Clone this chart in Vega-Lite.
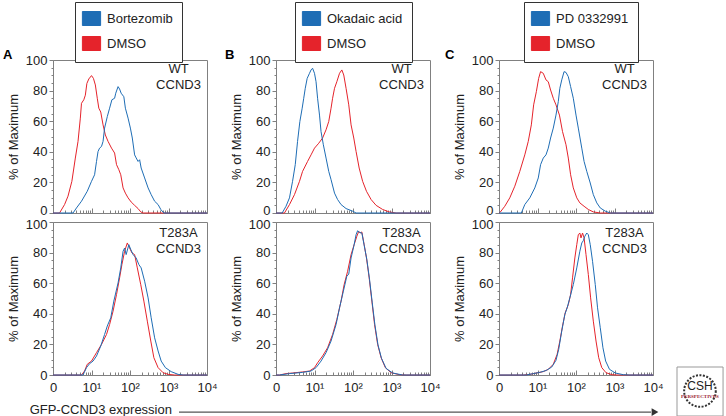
{
  "$schema": "https://vega.github.io/schema/vega-lite/v6.json",
  "padding": {"left": 2, "top": 1, "right": 0, "bottom": 0},
  "autosize": {"type": "pad"},
  "config": {
    "font": "Liberation Sans",
    "view": {"stroke": "#808080", "strokeWidth": 1},
    "axis": {"domainColor": "#808080", "tickColor": "#808080", "domainWidth": 1, "tickWidth": 1, "labelFont": "Liberation Sans", "labelFontSize": 13, "labelColor": "#222222", "titleFont": "Liberation Sans", "titleFontSize": 13, "titleFontWeight": "normal", "titleColor": "#222222", "grid": false},
    "legend": {"labelFont": "Liberation Sans", "labelFontSize": 13, "labelColor": "#222222", "padding": 9, "rowPadding": 6, "labelOffset": 8, "strokeColor": "#333333", "fillColor": "white", "symbolStrokeWidth": 0, "labelLimit": 300, "symbolSize": 196, "symbolOpacity": 1},
    "title": {"font": "Liberation Sans", "fontSize": 13, "fontWeight": "bold", "color": "#000000", "anchor": "start", "frame": "group", "offset": 0},
    "line": {"strokeWidth": 1}
  },
  "datasets": {
    "A_WT": [
      {"treatment": "DMSO", "log_gfp": 0, "pct_max": 0}, {"treatment": "DMSO", "log_gfp": 0.17, "pct_max": 0}, {"treatment": "DMSO", "log_gfp": 0.3, "pct_max": 5.5}, {"treatment": "DMSO", "log_gfp": 0.39, "pct_max": 11}, {"treatment": "DMSO", "log_gfp": 0.49, "pct_max": 20.7}, {"treatment": "DMSO", "log_gfp": 0.58, "pct_max": 35.9}, {"treatment": "DMSO", "log_gfp": 0.65, "pct_max": 46.8}, {"treatment": "DMSO", "log_gfp": 0.71, "pct_max": 62}, {"treatment": "DMSO", "log_gfp": 0.74, "pct_max": 71.7}, {"treatment": "DMSO", "log_gfp": 0.8, "pct_max": 74}, {"treatment": "DMSO", "log_gfp": 0.84, "pct_max": 77}, {"treatment": "DMSO", "log_gfp": 0.88, "pct_max": 84.7}, {"treatment": "DMSO", "log_gfp": 0.93, "pct_max": 87.6}, {"treatment": "DMSO", "log_gfp": 1.0, "pct_max": 89.8}, {"treatment": "DMSO", "log_gfp": 1.05, "pct_max": 88}, {"treatment": "DMSO", "log_gfp": 1.1, "pct_max": 83.7}, {"treatment": "DMSO", "log_gfp": 1.15, "pct_max": 75}, {"treatment": "DMSO", "log_gfp": 1.19, "pct_max": 68.5}, {"treatment": "DMSO", "log_gfp": 1.24, "pct_max": 66}, {"treatment": "DMSO", "log_gfp": 1.3, "pct_max": 57.6}, {"treatment": "DMSO", "log_gfp": 1.36, "pct_max": 51}, {"treatment": "DMSO", "log_gfp": 1.43, "pct_max": 46.8}, {"treatment": "DMSO", "log_gfp": 1.52, "pct_max": 42.4}, {"treatment": "DMSO", "log_gfp": 1.6, "pct_max": 39.2}, {"treatment": "DMSO", "log_gfp": 1.65, "pct_max": 31.6}, {"treatment": "DMSO", "log_gfp": 1.71, "pct_max": 28.3}, {"treatment": "DMSO", "log_gfp": 1.76, "pct_max": 25}, {"treatment": "DMSO", "log_gfp": 1.82, "pct_max": 16.4}, {"treatment": "DMSO", "log_gfp": 1.88, "pct_max": 13}, {"treatment": "DMSO", "log_gfp": 1.95, "pct_max": 9.9}, {"treatment": "DMSO", "log_gfp": 2.03, "pct_max": 7.2}, {"treatment": "DMSO", "log_gfp": 2.12, "pct_max": 5}, {"treatment": "DMSO", "log_gfp": 2.21, "pct_max": 2.9}, {"treatment": "DMSO", "log_gfp": 2.28, "pct_max": 0.7}, {"treatment": "DMSO", "log_gfp": 2.34, "pct_max": 0}, {"treatment": "DMSO", "log_gfp": 4, "pct_max": 0},
      {"treatment": "Bortezomib", "log_gfp": 0, "pct_max": 0}, {"treatment": "Bortezomib", "log_gfp": 0.52, "pct_max": 0}, {"treatment": "Bortezomib", "log_gfp": 0.61, "pct_max": 3.3}, {"treatment": "Bortezomib", "log_gfp": 0.74, "pct_max": 7.7}, {"treatment": "Bortezomib", "log_gfp": 0.89, "pct_max": 14.2}, {"treatment": "Bortezomib", "log_gfp": 1.0, "pct_max": 20.7}, {"treatment": "Bortezomib", "log_gfp": 1.08, "pct_max": 25}, {"treatment": "Bortezomib", "log_gfp": 1.13, "pct_max": 33.7}, {"treatment": "Bortezomib", "log_gfp": 1.17, "pct_max": 40.2}, {"treatment": "Bortezomib", "log_gfp": 1.21, "pct_max": 42.4}, {"treatment": "Bortezomib", "log_gfp": 1.26, "pct_max": 43.5}, {"treatment": "Bortezomib", "log_gfp": 1.3, "pct_max": 46.8}, {"treatment": "Bortezomib", "log_gfp": 1.34, "pct_max": 55.5}, {"treatment": "Bortezomib", "log_gfp": 1.41, "pct_max": 63}, {"treatment": "Bortezomib", "log_gfp": 1.47, "pct_max": 68.5}, {"treatment": "Bortezomib", "log_gfp": 1.53, "pct_max": 74}, {"treatment": "Bortezomib", "log_gfp": 1.6, "pct_max": 75}, {"treatment": "Bortezomib", "log_gfp": 1.63, "pct_max": 78.3}, {"treatment": "Bortezomib", "log_gfp": 1.69, "pct_max": 82.6}, {"treatment": "Bortezomib", "log_gfp": 1.73, "pct_max": 81}, {"treatment": "Bortezomib", "log_gfp": 1.77, "pct_max": 78.3}, {"treatment": "Bortezomib", "log_gfp": 1.84, "pct_max": 76}, {"treatment": "Bortezomib", "log_gfp": 1.88, "pct_max": 68.5}, {"treatment": "Bortezomib", "log_gfp": 1.95, "pct_max": 62}, {"treatment": "Bortezomib", "log_gfp": 2.01, "pct_max": 55.5}, {"treatment": "Bortezomib", "log_gfp": 2.06, "pct_max": 49}, {"treatment": "Bortezomib", "log_gfp": 2.12, "pct_max": 38}, {"treatment": "Bortezomib", "log_gfp": 2.16, "pct_max": 36}, {"treatment": "Bortezomib", "log_gfp": 2.21, "pct_max": 33.7}, {"treatment": "Bortezomib", "log_gfp": 2.25, "pct_max": 34.8}, {"treatment": "Bortezomib", "log_gfp": 2.29, "pct_max": 29.4}, {"treatment": "Bortezomib", "log_gfp": 2.38, "pct_max": 22.9}, {"treatment": "Bortezomib", "log_gfp": 2.47, "pct_max": 16.4}, {"treatment": "Bortezomib", "log_gfp": 2.55, "pct_max": 12}, {"treatment": "Bortezomib", "log_gfp": 2.64, "pct_max": 7.7}, {"treatment": "Bortezomib", "log_gfp": 2.73, "pct_max": 5.5}, {"treatment": "Bortezomib", "log_gfp": 2.8, "pct_max": 2.3}, {"treatment": "Bortezomib", "log_gfp": 2.88, "pct_max": 0}, {"treatment": "Bortezomib", "log_gfp": 4, "pct_max": 0}
    ],
    "A_T283A": [
      {"treatment": "DMSO", "log_gfp": 0, "pct_max": 0}, {"treatment": "DMSO", "log_gfp": 0.74, "pct_max": 0}, {"treatment": "DMSO", "log_gfp": 0.82, "pct_max": 2.6}, {"treatment": "DMSO", "log_gfp": 0.89, "pct_max": 7}, {"treatment": "DMSO", "log_gfp": 1.0, "pct_max": 9.1}, {"treatment": "DMSO", "log_gfp": 1.13, "pct_max": 14.6}, {"treatment": "DMSO", "log_gfp": 1.26, "pct_max": 20}, {"treatment": "DMSO", "log_gfp": 1.39, "pct_max": 26.5}, {"treatment": "DMSO", "log_gfp": 1.47, "pct_max": 33}, {"treatment": "DMSO", "log_gfp": 1.56, "pct_max": 41.7}, {"treatment": "DMSO", "log_gfp": 1.65, "pct_max": 52.6}, {"treatment": "DMSO", "log_gfp": 1.73, "pct_max": 63.5}, {"treatment": "DMSO", "log_gfp": 1.79, "pct_max": 72.2}, {"treatment": "DMSO", "log_gfp": 1.86, "pct_max": 80.9}, {"treatment": "DMSO", "log_gfp": 1.93, "pct_max": 86.3}, {"treatment": "DMSO", "log_gfp": 1.99, "pct_max": 83}, {"treatment": "DMSO", "log_gfp": 2.05, "pct_max": 79.8}, {"treatment": "DMSO", "log_gfp": 2.12, "pct_max": 78.7}, {"treatment": "DMSO", "log_gfp": 2.19, "pct_max": 70}, {"treatment": "DMSO", "log_gfp": 2.28, "pct_max": 59}, {"treatment": "DMSO", "log_gfp": 2.36, "pct_max": 48.3}, {"treatment": "DMSO", "log_gfp": 2.45, "pct_max": 35.2}, {"treatment": "DMSO", "log_gfp": 2.54, "pct_max": 22.2}, {"treatment": "DMSO", "log_gfp": 2.62, "pct_max": 11.3}, {"treatment": "DMSO", "log_gfp": 2.73, "pct_max": 4.8}, {"treatment": "DMSO", "log_gfp": 2.86, "pct_max": 1.5}, {"treatment": "DMSO", "log_gfp": 2.99, "pct_max": 0.4}, {"treatment": "DMSO", "log_gfp": 3.16, "pct_max": 0}, {"treatment": "DMSO", "log_gfp": 4, "pct_max": 0},
      {"treatment": "Bortezomib", "log_gfp": 0, "pct_max": 0}, {"treatment": "Bortezomib", "log_gfp": 0.78, "pct_max": 0}, {"treatment": "Bortezomib", "log_gfp": 0.87, "pct_max": 4.8}, {"treatment": "Bortezomib", "log_gfp": 0.95, "pct_max": 7.4}, {"treatment": "Bortezomib", "log_gfp": 1.04, "pct_max": 9.1}, {"treatment": "Bortezomib", "log_gfp": 1.13, "pct_max": 12.4}, {"treatment": "Bortezomib", "log_gfp": 1.24, "pct_max": 18.9}, {"treatment": "Bortezomib", "log_gfp": 1.34, "pct_max": 26.5}, {"treatment": "Bortezomib", "log_gfp": 1.41, "pct_max": 32}, {"treatment": "Bortezomib", "log_gfp": 1.5, "pct_max": 37.4}, {"treatment": "Bortezomib", "log_gfp": 1.58, "pct_max": 48.3}, {"treatment": "Bortezomib", "log_gfp": 1.69, "pct_max": 60.2}, {"treatment": "Bortezomib", "log_gfp": 1.76, "pct_max": 70}, {"treatment": "Bortezomib", "log_gfp": 1.82, "pct_max": 80.9}, {"treatment": "Bortezomib", "log_gfp": 1.86, "pct_max": 83}, {"treatment": "Bortezomib", "log_gfp": 1.9, "pct_max": 78.7}, {"treatment": "Bortezomib", "log_gfp": 1.97, "pct_max": 85.2}, {"treatment": "Bortezomib", "log_gfp": 2.02, "pct_max": 82}, {"treatment": "Bortezomib", "log_gfp": 2.08, "pct_max": 78.7}, {"treatment": "Bortezomib", "log_gfp": 2.16, "pct_max": 76.5}, {"treatment": "Bortezomib", "log_gfp": 2.23, "pct_max": 72.2}, {"treatment": "Bortezomib", "log_gfp": 2.29, "pct_max": 70}, {"treatment": "Bortezomib", "log_gfp": 2.38, "pct_max": 61.3}, {"treatment": "Bortezomib", "log_gfp": 2.47, "pct_max": 50.4}, {"treatment": "Bortezomib", "log_gfp": 2.55, "pct_max": 37.4}, {"treatment": "Bortezomib", "log_gfp": 2.64, "pct_max": 24.3}, {"treatment": "Bortezomib", "log_gfp": 2.73, "pct_max": 15.7}, {"treatment": "Bortezomib", "log_gfp": 2.81, "pct_max": 9.1}, {"treatment": "Bortezomib", "log_gfp": 2.92, "pct_max": 4.8}, {"treatment": "Bortezomib", "log_gfp": 3.07, "pct_max": 2.2}, {"treatment": "Bortezomib", "log_gfp": 3.25, "pct_max": 0.4}, {"treatment": "Bortezomib", "log_gfp": 3.38, "pct_max": 0}, {"treatment": "Bortezomib", "log_gfp": 4, "pct_max": 0}
    ],
    "B_WT": [
      {"treatment": "DMSO", "log_gfp": 0, "pct_max": 0}, {"treatment": "DMSO", "log_gfp": 0.22, "pct_max": 0}, {"treatment": "DMSO", "log_gfp": 0.35, "pct_max": 5.5}, {"treatment": "DMSO", "log_gfp": 0.48, "pct_max": 12}, {"treatment": "DMSO", "log_gfp": 0.61, "pct_max": 20.7}, {"treatment": "DMSO", "log_gfp": 0.69, "pct_max": 27.2}, {"treatment": "DMSO", "log_gfp": 0.82, "pct_max": 33.7}, {"treatment": "DMSO", "log_gfp": 0.91, "pct_max": 38}, {"treatment": "DMSO", "log_gfp": 1.0, "pct_max": 42.4}, {"treatment": "DMSO", "log_gfp": 1.11, "pct_max": 45.6}, {"treatment": "DMSO", "log_gfp": 1.21, "pct_max": 49}, {"treatment": "DMSO", "log_gfp": 1.3, "pct_max": 54.4}, {"treatment": "DMSO", "log_gfp": 1.37, "pct_max": 59.8}, {"treatment": "DMSO", "log_gfp": 1.43, "pct_max": 68.5}, {"treatment": "DMSO", "log_gfp": 1.47, "pct_max": 75}, {"treatment": "DMSO", "log_gfp": 1.52, "pct_max": 81.5}, {"treatment": "DMSO", "log_gfp": 1.58, "pct_max": 85.8}, {"treatment": "DMSO", "log_gfp": 1.65, "pct_max": 91.3}, {"treatment": "DMSO", "log_gfp": 1.71, "pct_max": 93.5}, {"treatment": "DMSO", "log_gfp": 1.76, "pct_max": 90.2}, {"treatment": "DMSO", "log_gfp": 1.82, "pct_max": 81.5}, {"treatment": "DMSO", "log_gfp": 1.89, "pct_max": 70.7}, {"treatment": "DMSO", "log_gfp": 1.95, "pct_max": 57.6}, {"treatment": "DMSO", "log_gfp": 2.02, "pct_max": 49}, {"treatment": "DMSO", "log_gfp": 2.08, "pct_max": 40.2}, {"treatment": "DMSO", "log_gfp": 2.16, "pct_max": 29.4}, {"treatment": "DMSO", "log_gfp": 2.25, "pct_max": 20.7}, {"treatment": "DMSO", "log_gfp": 2.35, "pct_max": 14.2}, {"treatment": "DMSO", "log_gfp": 2.47, "pct_max": 8.8}, {"treatment": "DMSO", "log_gfp": 2.6, "pct_max": 5}, {"treatment": "DMSO", "log_gfp": 2.77, "pct_max": 2.3}, {"treatment": "DMSO", "log_gfp": 2.94, "pct_max": 0.7}, {"treatment": "DMSO", "log_gfp": 3.12, "pct_max": 0}, {"treatment": "DMSO", "log_gfp": 4, "pct_max": 0},
      {"treatment": "Okadaic acid", "log_gfp": 0, "pct_max": 0}, {"treatment": "Okadaic acid", "log_gfp": 0.16, "pct_max": 0}, {"treatment": "Okadaic acid", "log_gfp": 0.26, "pct_max": 4.4}, {"treatment": "Okadaic acid", "log_gfp": 0.35, "pct_max": 9.9}, {"treatment": "Okadaic acid", "log_gfp": 0.43, "pct_max": 20.7}, {"treatment": "Okadaic acid", "log_gfp": 0.5, "pct_max": 31.6}, {"treatment": "Okadaic acid", "log_gfp": 0.56, "pct_max": 46.8}, {"treatment": "Okadaic acid", "log_gfp": 0.62, "pct_max": 59.8}, {"treatment": "Okadaic acid", "log_gfp": 0.68, "pct_max": 68.5}, {"treatment": "Okadaic acid", "log_gfp": 0.72, "pct_max": 75}, {"treatment": "Okadaic acid", "log_gfp": 0.76, "pct_max": 81.5}, {"treatment": "Okadaic acid", "log_gfp": 0.81, "pct_max": 88}, {"treatment": "Okadaic acid", "log_gfp": 0.87, "pct_max": 91.3}, {"treatment": "Okadaic acid", "log_gfp": 0.91, "pct_max": 93.5}, {"treatment": "Okadaic acid", "log_gfp": 0.95, "pct_max": 94.6}, {"treatment": "Okadaic acid", "log_gfp": 1.0, "pct_max": 91.3}, {"treatment": "Okadaic acid", "log_gfp": 1.04, "pct_max": 85.8}, {"treatment": "Okadaic acid", "log_gfp": 1.08, "pct_max": 75}, {"treatment": "Okadaic acid", "log_gfp": 1.13, "pct_max": 64}, {"treatment": "Okadaic acid", "log_gfp": 1.17, "pct_max": 53.2}, {"treatment": "Okadaic acid", "log_gfp": 1.23, "pct_max": 44.6}, {"treatment": "Okadaic acid", "log_gfp": 1.3, "pct_max": 35.9}, {"treatment": "Okadaic acid", "log_gfp": 1.37, "pct_max": 27.2}, {"treatment": "Okadaic acid", "log_gfp": 1.43, "pct_max": 21.8}, {"treatment": "Okadaic acid", "log_gfp": 1.52, "pct_max": 13}, {"treatment": "Okadaic acid", "log_gfp": 1.6, "pct_max": 8.8}, {"treatment": "Okadaic acid", "log_gfp": 1.69, "pct_max": 5.5}, {"treatment": "Okadaic acid", "log_gfp": 1.82, "pct_max": 2.9}, {"treatment": "Okadaic acid", "log_gfp": 1.99, "pct_max": 1.2}, {"treatment": "Okadaic acid", "log_gfp": 2.08, "pct_max": 0}, {"treatment": "Okadaic acid", "log_gfp": 4, "pct_max": 0}
    ],
    "B_T283A": [
      {"treatment": "DMSO", "log_gfp": 0, "pct_max": 0}, {"treatment": "DMSO", "log_gfp": 0.09, "pct_max": 0}, {"treatment": "DMSO", "log_gfp": 0.26, "pct_max": 0.9}, {"treatment": "DMSO", "log_gfp": 0.43, "pct_max": 1.3}, {"treatment": "DMSO", "log_gfp": 0.69, "pct_max": 2}, {"treatment": "DMSO", "log_gfp": 0.87, "pct_max": 2.6}, {"treatment": "DMSO", "log_gfp": 1.0, "pct_max": 4.8}, {"treatment": "DMSO", "log_gfp": 1.08, "pct_max": 8}, {"treatment": "DMSO", "log_gfp": 1.21, "pct_max": 12.4}, {"treatment": "DMSO", "log_gfp": 1.34, "pct_max": 17.8}, {"treatment": "DMSO", "log_gfp": 1.47, "pct_max": 26.5}, {"treatment": "DMSO", "log_gfp": 1.58, "pct_max": 36.3}, {"treatment": "DMSO", "log_gfp": 1.69, "pct_max": 48.3}, {"treatment": "DMSO", "log_gfp": 1.77, "pct_max": 59.1}, {"treatment": "DMSO", "log_gfp": 1.86, "pct_max": 67.8}, {"treatment": "DMSO", "log_gfp": 1.95, "pct_max": 78.7}, {"treatment": "DMSO", "log_gfp": 2.03, "pct_max": 85.2}, {"treatment": "DMSO", "log_gfp": 2.1, "pct_max": 90.7}, {"treatment": "DMSO", "log_gfp": 2.15, "pct_max": 93.9}, {"treatment": "DMSO", "log_gfp": 2.19, "pct_max": 92.8}, {"treatment": "DMSO", "log_gfp": 2.23, "pct_max": 93.5}, {"treatment": "DMSO", "log_gfp": 2.29, "pct_max": 85.2}, {"treatment": "DMSO", "log_gfp": 2.35, "pct_max": 76.5}, {"treatment": "DMSO", "log_gfp": 2.42, "pct_max": 63.5}, {"treatment": "DMSO", "log_gfp": 2.49, "pct_max": 48.3}, {"treatment": "DMSO", "log_gfp": 2.56, "pct_max": 33}, {"treatment": "DMSO", "log_gfp": 2.64, "pct_max": 20}, {"treatment": "DMSO", "log_gfp": 2.73, "pct_max": 11.3}, {"treatment": "DMSO", "log_gfp": 2.84, "pct_max": 4.8}, {"treatment": "DMSO", "log_gfp": 2.99, "pct_max": 1.5}, {"treatment": "DMSO", "log_gfp": 3.2, "pct_max": 0.2}, {"treatment": "DMSO", "log_gfp": 3.38, "pct_max": 0}, {"treatment": "DMSO", "log_gfp": 4, "pct_max": 0},
      {"treatment": "Okadaic acid", "log_gfp": 0, "pct_max": 0}, {"treatment": "Okadaic acid", "log_gfp": 0.09, "pct_max": 0}, {"treatment": "Okadaic acid", "log_gfp": 0.35, "pct_max": 0.9}, {"treatment": "Okadaic acid", "log_gfp": 0.69, "pct_max": 1.7}, {"treatment": "Okadaic acid", "log_gfp": 0.91, "pct_max": 2.6}, {"treatment": "Okadaic acid", "log_gfp": 1.04, "pct_max": 4.8}, {"treatment": "Okadaic acid", "log_gfp": 1.17, "pct_max": 9.1}, {"treatment": "Okadaic acid", "log_gfp": 1.3, "pct_max": 14.6}, {"treatment": "Okadaic acid", "log_gfp": 1.43, "pct_max": 22.2}, {"treatment": "Okadaic acid", "log_gfp": 1.56, "pct_max": 33}, {"treatment": "Okadaic acid", "log_gfp": 1.66, "pct_max": 45}, {"treatment": "Okadaic acid", "log_gfp": 1.75, "pct_max": 54.8}, {"treatment": "Okadaic acid", "log_gfp": 1.84, "pct_max": 64.6}, {"treatment": "Okadaic acid", "log_gfp": 1.89, "pct_max": 66}, {"treatment": "Okadaic acid", "log_gfp": 1.95, "pct_max": 76.5}, {"treatment": "Okadaic acid", "log_gfp": 2.02, "pct_max": 84.1}, {"treatment": "Okadaic acid", "log_gfp": 2.08, "pct_max": 91.7}, {"treatment": "Okadaic acid", "log_gfp": 2.12, "pct_max": 94.3}, {"treatment": "Okadaic acid", "log_gfp": 2.16, "pct_max": 93.3}, {"treatment": "Okadaic acid", "log_gfp": 2.23, "pct_max": 92.8}, {"treatment": "Okadaic acid", "log_gfp": 2.29, "pct_max": 84.8}, {"treatment": "Okadaic acid", "log_gfp": 2.36, "pct_max": 75.4}, {"treatment": "Okadaic acid", "log_gfp": 2.43, "pct_max": 62.4}, {"treatment": "Okadaic acid", "log_gfp": 2.5, "pct_max": 47.2}, {"treatment": "Okadaic acid", "log_gfp": 2.57, "pct_max": 32.6}, {"treatment": "Okadaic acid", "log_gfp": 2.65, "pct_max": 19.6}, {"treatment": "Okadaic acid", "log_gfp": 2.74, "pct_max": 10.9}, {"treatment": "Okadaic acid", "log_gfp": 2.86, "pct_max": 4.3}, {"treatment": "Okadaic acid", "log_gfp": 3.03, "pct_max": 1.3}, {"treatment": "Okadaic acid", "log_gfp": 3.29, "pct_max": 0}, {"treatment": "Okadaic acid", "log_gfp": 4, "pct_max": 0}
    ],
    "C_WT": [
      {"treatment": "DMSO", "log_gfp": 0, "pct_max": 0}, {"treatment": "DMSO", "log_gfp": 0.03, "pct_max": 0.5}, {"treatment": "DMSO", "log_gfp": 0.15, "pct_max": 4.4}, {"treatment": "DMSO", "log_gfp": 0.28, "pct_max": 9.9}, {"treatment": "DMSO", "log_gfp": 0.41, "pct_max": 17.5}, {"treatment": "DMSO", "log_gfp": 0.54, "pct_max": 27.2}, {"treatment": "DMSO", "log_gfp": 0.67, "pct_max": 38}, {"treatment": "DMSO", "log_gfp": 0.76, "pct_max": 46.8}, {"treatment": "DMSO", "log_gfp": 0.84, "pct_max": 57.6}, {"treatment": "DMSO", "log_gfp": 0.9, "pct_max": 70.7}, {"treatment": "DMSO", "log_gfp": 0.97, "pct_max": 79.3}, {"treatment": "DMSO", "log_gfp": 1.03, "pct_max": 88}, {"treatment": "DMSO", "log_gfp": 1.08, "pct_max": 92.4}, {"treatment": "DMSO", "log_gfp": 1.15, "pct_max": 91.3}, {"treatment": "DMSO", "log_gfp": 1.22, "pct_max": 87}, {"treatment": "DMSO", "log_gfp": 1.28, "pct_max": 85.8}, {"treatment": "DMSO", "log_gfp": 1.34, "pct_max": 80.4}, {"treatment": "DMSO", "log_gfp": 1.41, "pct_max": 75}, {"treatment": "DMSO", "log_gfp": 1.48, "pct_max": 70.7}, {"treatment": "DMSO", "log_gfp": 1.57, "pct_max": 64}, {"treatment": "DMSO", "log_gfp": 1.65, "pct_max": 53.2}, {"treatment": "DMSO", "log_gfp": 1.74, "pct_max": 44.6}, {"treatment": "DMSO", "log_gfp": 1.8, "pct_max": 35.9}, {"treatment": "DMSO", "log_gfp": 1.86, "pct_max": 25}, {"treatment": "DMSO", "log_gfp": 1.93, "pct_max": 16.4}, {"treatment": "DMSO", "log_gfp": 2.02, "pct_max": 9.9}, {"treatment": "DMSO", "log_gfp": 2.1, "pct_max": 6.6}, {"treatment": "DMSO", "log_gfp": 2.21, "pct_max": 4.4}, {"treatment": "DMSO", "log_gfp": 2.32, "pct_max": 2.3}, {"treatment": "DMSO", "log_gfp": 2.45, "pct_max": 0.7}, {"treatment": "DMSO", "log_gfp": 2.63, "pct_max": 0}, {"treatment": "DMSO", "log_gfp": 4, "pct_max": 0},
      {"treatment": "PD 0332991", "log_gfp": 0, "pct_max": 0}, {"treatment": "PD 0332991", "log_gfp": 0.58, "pct_max": 0}, {"treatment": "PD 0332991", "log_gfp": 0.67, "pct_max": 5.5}, {"treatment": "PD 0332991", "log_gfp": 0.8, "pct_max": 9.9}, {"treatment": "PD 0332991", "log_gfp": 0.93, "pct_max": 16.4}, {"treatment": "PD 0332991", "log_gfp": 1.02, "pct_max": 22.9}, {"treatment": "PD 0332991", "log_gfp": 1.08, "pct_max": 31.6}, {"treatment": "PD 0332991", "log_gfp": 1.15, "pct_max": 35.9}, {"treatment": "PD 0332991", "log_gfp": 1.22, "pct_max": 38}, {"treatment": "PD 0332991", "log_gfp": 1.28, "pct_max": 42.4}, {"treatment": "PD 0332991", "log_gfp": 1.34, "pct_max": 49}, {"treatment": "PD 0332991", "log_gfp": 1.41, "pct_max": 55.5}, {"treatment": "PD 0332991", "log_gfp": 1.48, "pct_max": 64}, {"treatment": "PD 0332991", "log_gfp": 1.54, "pct_max": 72.8}, {"treatment": "PD 0332991", "log_gfp": 1.58, "pct_max": 81.5}, {"treatment": "PD 0332991", "log_gfp": 1.63, "pct_max": 87}, {"treatment": "PD 0332991", "log_gfp": 1.69, "pct_max": 92.4}, {"treatment": "PD 0332991", "log_gfp": 1.74, "pct_max": 91.9}, {"treatment": "PD 0332991", "log_gfp": 1.8, "pct_max": 89.1}, {"treatment": "PD 0332991", "log_gfp": 1.86, "pct_max": 82.6}, {"treatment": "PD 0332991", "log_gfp": 1.93, "pct_max": 75}, {"treatment": "PD 0332991", "log_gfp": 2.0, "pct_max": 64}, {"treatment": "PD 0332991", "log_gfp": 2.06, "pct_max": 55.5}, {"treatment": "PD 0332991", "log_gfp": 2.15, "pct_max": 42.4}, {"treatment": "PD 0332991", "log_gfp": 2.21, "pct_max": 33.7}, {"treatment": "PD 0332991", "log_gfp": 2.28, "pct_max": 27.2}, {"treatment": "PD 0332991", "log_gfp": 2.37, "pct_max": 19.6}, {"treatment": "PD 0332991", "log_gfp": 2.45, "pct_max": 12}, {"treatment": "PD 0332991", "log_gfp": 2.54, "pct_max": 6.6}, {"treatment": "PD 0332991", "log_gfp": 2.63, "pct_max": 3.3}, {"treatment": "PD 0332991", "log_gfp": 2.76, "pct_max": 1.2}, {"treatment": "PD 0332991", "log_gfp": 2.89, "pct_max": 0}, {"treatment": "PD 0332991", "log_gfp": 4, "pct_max": 0}
    ],
    "C_T283A": [
      {"treatment": "DMSO", "log_gfp": 0, "pct_max": 0}, {"treatment": "DMSO", "log_gfp": 0.63, "pct_max": 0}, {"treatment": "DMSO", "log_gfp": 0.8, "pct_max": 0.4}, {"treatment": "DMSO", "log_gfp": 0.97, "pct_max": 1.3}, {"treatment": "DMSO", "log_gfp": 1.15, "pct_max": 2.2}, {"treatment": "DMSO", "log_gfp": 1.28, "pct_max": 3.7}, {"treatment": "DMSO", "log_gfp": 1.41, "pct_max": 7}, {"treatment": "DMSO", "log_gfp": 1.51, "pct_max": 13.5}, {"treatment": "DMSO", "log_gfp": 1.58, "pct_max": 22.2}, {"treatment": "DMSO", "log_gfp": 1.65, "pct_max": 32}, {"treatment": "DMSO", "log_gfp": 1.72, "pct_max": 40.7}, {"treatment": "DMSO", "log_gfp": 1.8, "pct_max": 46}, {"treatment": "DMSO", "log_gfp": 1.86, "pct_max": 52.6}, {"treatment": "DMSO", "log_gfp": 1.91, "pct_max": 63.5}, {"treatment": "DMSO", "log_gfp": 1.97, "pct_max": 76.5}, {"treatment": "DMSO", "log_gfp": 2.02, "pct_max": 85.2}, {"treatment": "DMSO", "log_gfp": 2.06, "pct_max": 91.7}, {"treatment": "DMSO", "log_gfp": 2.1, "pct_max": 92.8}, {"treatment": "DMSO", "log_gfp": 2.13, "pct_max": 89.6}, {"treatment": "DMSO", "log_gfp": 2.17, "pct_max": 92.8}, {"treatment": "DMSO", "log_gfp": 2.21, "pct_max": 89.6}, {"treatment": "DMSO", "log_gfp": 2.26, "pct_max": 78.7}, {"treatment": "DMSO", "log_gfp": 2.32, "pct_max": 65.7}, {"treatment": "DMSO", "log_gfp": 2.38, "pct_max": 50.4}, {"treatment": "DMSO", "log_gfp": 2.45, "pct_max": 35.2}, {"treatment": "DMSO", "log_gfp": 2.52, "pct_max": 22.2}, {"treatment": "DMSO", "log_gfp": 2.59, "pct_max": 11.3}, {"treatment": "DMSO", "log_gfp": 2.67, "pct_max": 4.8}, {"treatment": "DMSO", "log_gfp": 2.78, "pct_max": 1.5}, {"treatment": "DMSO", "log_gfp": 2.93, "pct_max": 0.2}, {"treatment": "DMSO", "log_gfp": 3.06, "pct_max": 0}, {"treatment": "DMSO", "log_gfp": 4, "pct_max": 0},
      {"treatment": "PD 0332991", "log_gfp": 0, "pct_max": 0}, {"treatment": "PD 0332991", "log_gfp": 0.71, "pct_max": 0}, {"treatment": "PD 0332991", "log_gfp": 0.89, "pct_max": 0.9}, {"treatment": "PD 0332991", "log_gfp": 1.06, "pct_max": 1.7}, {"treatment": "PD 0332991", "log_gfp": 1.23, "pct_max": 3}, {"treatment": "PD 0332991", "log_gfp": 1.37, "pct_max": 5.2}, {"treatment": "PD 0332991", "log_gfp": 1.48, "pct_max": 9.6}, {"treatment": "PD 0332991", "log_gfp": 1.55, "pct_max": 16.7}, {"treatment": "PD 0332991", "log_gfp": 1.63, "pct_max": 28.7}, {"treatment": "PD 0332991", "log_gfp": 1.71, "pct_max": 39.6}, {"treatment": "PD 0332991", "log_gfp": 1.77, "pct_max": 43.9}, {"treatment": "PD 0332991", "log_gfp": 1.84, "pct_max": 50.4}, {"treatment": "PD 0332991", "log_gfp": 1.93, "pct_max": 59.1}, {"treatment": "PD 0332991", "log_gfp": 2.02, "pct_max": 70}, {"treatment": "PD 0332991", "log_gfp": 2.1, "pct_max": 80.9}, {"treatment": "PD 0332991", "log_gfp": 2.15, "pct_max": 86.3}, {"treatment": "PD 0332991", "log_gfp": 2.19, "pct_max": 87.8}, {"treatment": "PD 0332991", "log_gfp": 2.23, "pct_max": 90.7}, {"treatment": "PD 0332991", "log_gfp": 2.28, "pct_max": 92.8}, {"treatment": "PD 0332991", "log_gfp": 2.32, "pct_max": 91.7}, {"treatment": "PD 0332991", "log_gfp": 2.37, "pct_max": 85.2}, {"treatment": "PD 0332991", "log_gfp": 2.43, "pct_max": 74.3}, {"treatment": "PD 0332991", "log_gfp": 2.5, "pct_max": 59.1}, {"treatment": "PD 0332991", "log_gfp": 2.56, "pct_max": 43.9}, {"treatment": "PD 0332991", "log_gfp": 2.63, "pct_max": 30.9}, {"treatment": "PD 0332991", "log_gfp": 2.7, "pct_max": 17.8}, {"treatment": "PD 0332991", "log_gfp": 2.77, "pct_max": 9.1}, {"treatment": "PD 0332991", "log_gfp": 2.87, "pct_max": 3.7}, {"treatment": "PD 0332991", "log_gfp": 3.02, "pct_max": 1.3}, {"treatment": "PD 0332991", "log_gfp": 3.23, "pct_max": 0.2}, {"treatment": "PD 0332991", "log_gfp": 3.4, "pct_max": 0}, {"treatment": "PD 0332991", "log_gfp": 4, "pct_max": 0}
    ]
  },
  "columns": 3,
  "bounds": "flush",
  "spacing": {"row": 9, "column": 69},
  "resolve": {"scale": {"color": "independent"}, "legend": {"color": "independent"}},
  "concat": [
    {
      "width": 154, "height": 153,
      "title": {"text": "A", "dx": -50, "dy": 64},
      "resolve": {"axis": {"x": "independent", "y": "independent"}},
      "layer": [
        {"data": {"name": "A_WT"}, "transform": [{"filter": "false"}],
         "mark": {"type": "point", "filled": true, "opacity": 1, "shape": "M-1.3,-1H1.3V1H-1.3Z", "size": 196},
         "encoding": {"color": {"field": "treatment", "type": "nominal", "scale": {"domain": ["Bortezomib", "DMSO"], "range": ["#1e6db5", "#e5232b"]}, "legend": {"orient": "none", "legendX": 22, "legendY": -58, "title": null, "symbolType": "M-1.3,-1H1.3V1H-1.3Z", "symbolSize": 196}}}},
        {"data": {"name": "A_WT"}, "mark": {"type": "line", "strokeWidth": 1},
         "encoding": {
           "x": {"field": "log_gfp", "type": "quantitative", "scale": {"domain": [0, 4], "nice": false, "zero": false}, "axis": {"orient": "bottom", "title": null, "labels": false, "values": [0, 1, 2, 3, 4], "tickSize": -5}},
           "y": {"field": "pct_max", "type": "quantitative", "scale": {"domain": [0, 100], "nice": false}, "axis": {"orient": "left", "title": "% of Maximum", "values": [0, 20, 40, 60, 80, 100], "tickSize": 4, "labelPadding": 2, "titlePadding": 5, "labelOffset": {"condition": {"test": "datum.value === 0", "value": -2.5}, "value": 0}}},
           "color": {"field": "treatment", "type": "nominal", "scale": {"domain": ["Bortezomib", "DMSO"], "range": ["#1e6db5", "#e5232b"]}}
         }},
        {"data": {"values": [{"note": "WT\nCCND3"}]}, "mark": {"type": "text", "lineBreak": "\n", "align": "center", "baseline": "top", "fontSize": 13, "lineHeight": 15.5, "color": "#222222"},
         "encoding": {
           "x": {"datum": 3.26, "axis": {"orient": "bottom", "title": null, "labels": false, "domain": false, "tickSize": -3, "values": [0.301,0.477,0.602,0.699,0.778,0.845,0.903,0.954,1.301,1.477,1.602,1.699,1.778,1.845,1.903,1.954,2.301,2.477,2.602,2.699,2.778,2.845,2.903,2.954,3.301,3.477,3.602,3.699,3.778,3.845,3.903,3.954]}},
           "y": {"datum": 98, "axis": {"orient": "left", "title": null, "labels": false, "domain": false, "tickSize": 2, "values": [5,10,15,25,30,35,45,50,55,65,70,75,85,90,95]}},
           "text": {"field": "note"}}}
      ]
    },
    {
      "width": 154, "height": 153,
      "title": {"text": "B", "dx": -51, "dy": 64},
      "resolve": {"axis": {"x": "independent", "y": "independent"}},
      "layer": [
        {"data": {"name": "B_WT"}, "transform": [{"filter": "false"}],
         "mark": {"type": "point", "filled": true, "opacity": 1, "shape": "M-1.3,-1H1.3V1H-1.3Z", "size": 196},
         "encoding": {"color": {"field": "treatment", "type": "nominal", "scale": {"domain": ["Okadaic acid", "DMSO"], "range": ["#1e6db5", "#e5232b"]}, "legend": {"orient": "none", "legendX": 19, "legendY": -58, "title": null, "symbolType": "M-1.3,-1H1.3V1H-1.3Z", "symbolSize": 196}}}},
        {"data": {"name": "B_WT"}, "mark": {"type": "line", "strokeWidth": 1},
         "encoding": {
           "x": {"field": "log_gfp", "type": "quantitative", "scale": {"domain": [0, 4], "nice": false, "zero": false}, "axis": {"orient": "bottom", "title": null, "labels": false, "values": [0, 1, 2, 3, 4], "tickSize": -5}},
           "y": {"field": "pct_max", "type": "quantitative", "scale": {"domain": [0, 100], "nice": false}, "axis": {"orient": "left", "title": "% of Maximum", "values": [0, 20, 40, 60, 80, 100], "tickSize": 4, "labelPadding": 2, "titlePadding": 5, "labelOffset": {"condition": {"test": "datum.value === 0", "value": -2.5}, "value": 0}}},
           "color": {"field": "treatment", "type": "nominal", "scale": {"domain": ["Okadaic acid", "DMSO"], "range": ["#1e6db5", "#e5232b"]}}
         }},
        {"data": {"values": [{"note": "WT\nCCND3"}]}, "mark": {"type": "text", "lineBreak": "\n", "align": "center", "baseline": "top", "fontSize": 13, "lineHeight": 15.5, "color": "#222222"},
         "encoding": {
           "x": {"datum": 3.26, "axis": {"orient": "bottom", "title": null, "labels": false, "domain": false, "tickSize": -3, "values": [0.301,0.477,0.602,0.699,0.778,0.845,0.903,0.954,1.301,1.477,1.602,1.699,1.778,1.845,1.903,1.954,2.301,2.477,2.602,2.699,2.778,2.845,2.903,2.954,3.301,3.477,3.602,3.699,3.778,3.845,3.903,3.954]}},
           "y": {"datum": 98, "axis": {"orient": "left", "title": null, "labels": false, "domain": false, "tickSize": 2, "values": [5,10,15,25,30,35,45,50,55,65,70,75,85,90,95]}},
           "text": {"field": "note"}}}
      ]
    },
    {
      "width": 154, "height": 153,
      "title": {"text": "C", "dx": -54, "dy": 64},
      "resolve": {"axis": {"x": "independent", "y": "independent"}},
      "layer": [
        {"data": {"name": "C_WT"}, "transform": [{"filter": "false"}],
         "mark": {"type": "point", "filled": true, "opacity": 1, "shape": "M-1.3,-1H1.3V1H-1.3Z", "size": 196},
         "encoding": {"color": {"field": "treatment", "type": "nominal", "scale": {"domain": ["PD 0332991", "DMSO"], "range": ["#1e6db5", "#e5232b"]}, "legend": {"orient": "none", "legendX": 25, "legendY": -58, "title": null, "symbolType": "M-1.3,-1H1.3V1H-1.3Z", "symbolSize": 196}}}},
        {"data": {"name": "C_WT"}, "mark": {"type": "line", "strokeWidth": 1},
         "encoding": {
           "x": {"field": "log_gfp", "type": "quantitative", "scale": {"domain": [0, 4], "nice": false, "zero": false}, "axis": {"orient": "bottom", "title": null, "labels": false, "values": [0, 1, 2, 3, 4], "tickSize": -5}},
           "y": {"field": "pct_max", "type": "quantitative", "scale": {"domain": [0, 100], "nice": false}, "axis": {"orient": "left", "title": "% of Maximum", "values": [0, 20, 40, 60, 80, 100], "tickSize": 4, "labelPadding": 2, "titlePadding": 5, "labelOffset": {"condition": {"test": "datum.value === 0", "value": -2.5}, "value": 0}}},
           "color": {"field": "treatment", "type": "nominal", "scale": {"domain": ["PD 0332991", "DMSO"], "range": ["#1e6db5", "#e5232b"]}}
         }},
        {"data": {"values": [{"note": "WT\nCCND3"}]}, "mark": {"type": "text", "lineBreak": "\n", "align": "center", "baseline": "top", "fontSize": 13, "lineHeight": 15.5, "color": "#222222"},
         "encoding": {
           "x": {"datum": 3.26, "axis": {"orient": "bottom", "title": null, "labels": false, "domain": false, "tickSize": -3, "values": [0.301,0.477,0.602,0.699,0.778,0.845,0.903,0.954,1.301,1.477,1.602,1.699,1.778,1.845,1.903,1.954,2.301,2.477,2.602,2.699,2.778,2.845,2.903,2.954,3.301,3.477,3.602,3.699,3.778,3.845,3.903,3.954]}},
           "y": {"datum": 98, "axis": {"orient": "left", "title": null, "labels": false, "domain": false, "tickSize": 2, "values": [5,10,15,25,30,35,45,50,55,65,70,75,85,90,95]}},
           "text": {"field": "note"}}}
      ]
    },
    {
      "width": 154, "height": 153,
      "resolve": {"axis": {"x": "independent", "y": "independent"}},
      "layer": [
        {"data": {"name": "A_T283A"}, "mark": {"type": "line", "strokeWidth": 1},
         "encoding": {
           "x": {"field": "log_gfp", "type": "quantitative", "scale": {"domain": [0, 4], "nice": false, "zero": false}, "axis": {"orient": "bottom", "title": null, "values": [0, 1, 2, 3, 4], "tickSize": -5, "labelExpr": "datum.value === 0 ? '0' : datum.value === 1 ? '10¹' : datum.value === 2 ? '10²' : datum.value === 3 ? '10³' : '10⁴'", "labelFlush": false, "labelOverlap": false, "labelPadding": 11}},
           "y": {"field": "pct_max", "type": "quantitative", "scale": {"domain": [0, 100], "nice": false}, "axis": {"orient": "left", "title": "% of Maximum", "values": [0, 20, 40, 60, 80, 100], "tickSize": 4, "labelPadding": 2, "titlePadding": 5, "labelOffset": {"condition": {"test": "datum.value === 100", "value": 2.5}, "value": 0}}},
           "color": {"field": "treatment", "type": "nominal", "scale": {"domain": ["Bortezomib", "DMSO"], "range": ["#1e6db5", "#e5232b"]}, "legend": null}
         }},
        {"data": {"values": [{"note": "T283A\nCCND3"}]}, "mark": {"type": "text", "lineBreak": "\n", "align": "center", "baseline": "top", "fontSize": 13, "lineHeight": 15.5, "color": "#222222"},
         "encoding": {
           "x": {"datum": 3.26, "axis": {"orient": "bottom", "title": null, "labels": false, "domain": false, "tickSize": -3, "values": [0.301,0.477,0.602,0.699,0.778,0.845,0.903,0.954,1.301,1.477,1.602,1.699,1.778,1.845,1.903,1.954,2.301,2.477,2.602,2.699,2.778,2.845,2.903,2.954,3.301,3.477,3.602,3.699,3.778,3.845,3.903,3.954]}},
           "y": {"datum": 96.5, "axis": {"orient": "left", "title": null, "labels": false, "domain": false, "tickSize": 2, "values": [5,10,15,25,30,35,45,50,55,65,70,75,85,90,95]}},
           "text": {"field": "note"}}}
      ]
    },
    {
      "width": 154, "height": 153,
      "resolve": {"axis": {"x": "independent", "y": "independent"}},
      "layer": [
        {"data": {"name": "B_T283A"}, "mark": {"type": "line", "strokeWidth": 1},
         "encoding": {
           "x": {"field": "log_gfp", "type": "quantitative", "scale": {"domain": [0, 4], "nice": false, "zero": false}, "axis": {"orient": "bottom", "title": null, "values": [0, 1, 2, 3, 4], "tickSize": -5, "labelExpr": "datum.value === 0 ? '0' : datum.value === 1 ? '10¹' : datum.value === 2 ? '10²' : datum.value === 3 ? '10³' : '10⁴'", "labelFlush": false, "labelOverlap": false, "labelPadding": 11}},
           "y": {"field": "pct_max", "type": "quantitative", "scale": {"domain": [0, 100], "nice": false}, "axis": {"orient": "left", "title": "% of Maximum", "values": [0, 20, 40, 60, 80, 100], "tickSize": 4, "labelPadding": 2, "titlePadding": 5, "labelOffset": {"condition": {"test": "datum.value === 100", "value": 2.5}, "value": 0}}},
           "color": {"field": "treatment", "type": "nominal", "scale": {"domain": ["Okadaic acid", "DMSO"], "range": ["#1e6db5", "#e5232b"]}, "legend": null}
         }},
        {"data": {"values": [{"note": "T283A\nCCND3"}]}, "mark": {"type": "text", "lineBreak": "\n", "align": "center", "baseline": "top", "fontSize": 13, "lineHeight": 15.5, "color": "#222222"},
         "encoding": {
           "x": {"datum": 3.26, "axis": {"orient": "bottom", "title": null, "labels": false, "domain": false, "tickSize": -3, "values": [0.301,0.477,0.602,0.699,0.778,0.845,0.903,0.954,1.301,1.477,1.602,1.699,1.778,1.845,1.903,1.954,2.301,2.477,2.602,2.699,2.778,2.845,2.903,2.954,3.301,3.477,3.602,3.699,3.778,3.845,3.903,3.954]}},
           "y": {"datum": 96.5, "axis": {"orient": "left", "title": null, "labels": false, "domain": false, "tickSize": 2, "values": [5,10,15,25,30,35,45,50,55,65,70,75,85,90,95]}},
           "text": {"field": "note"}}}
      ]
    },
    {
      "width": 154, "height": 153,
      "resolve": {"axis": {"x": "independent", "y": "independent"}},
      "layer": [
        {"data": {"name": "C_T283A"}, "mark": {"type": "line", "strokeWidth": 1},
         "encoding": {
           "x": {"field": "log_gfp", "type": "quantitative", "scale": {"domain": [0, 4], "nice": false, "zero": false}, "axis": {"orient": "bottom", "title": null, "values": [0, 1, 2, 3, 4], "tickSize": -5, "labelExpr": "datum.value === 0 ? '0' : datum.value === 1 ? '10¹' : datum.value === 2 ? '10²' : datum.value === 3 ? '10³' : '10⁴'", "labelFlush": false, "labelOverlap": false, "labelPadding": 11}},
           "y": {"field": "pct_max", "type": "quantitative", "scale": {"domain": [0, 100], "nice": false}, "axis": {"orient": "left", "title": "% of Maximum", "values": [0, 20, 40, 60, 80, 100], "tickSize": 4, "labelPadding": 2, "titlePadding": 5, "labelOffset": {"condition": {"test": "datum.value === 100", "value": 2.5}, "value": 0}}},
           "color": {"field": "treatment", "type": "nominal", "scale": {"domain": ["PD 0332991", "DMSO"], "range": ["#1e6db5", "#e5232b"]}, "legend": null}
         }},
        {"data": {"values": [{"note": "T283A\nCCND3"}]}, "mark": {"type": "text", "lineBreak": "\n", "align": "center", "baseline": "top", "fontSize": 13, "lineHeight": 15.5, "color": "#222222"},
         "encoding": {
           "x": {"datum": 3.26, "axis": {"orient": "bottom", "title": null, "labels": false, "domain": false, "tickSize": -3, "values": [0.301,0.477,0.602,0.699,0.778,0.845,0.903,0.954,1.301,1.477,1.602,1.699,1.778,1.845,1.903,1.954,2.301,2.477,2.602,2.699,2.778,2.845,2.903,2.954,3.301,3.477,3.602,3.699,3.778,3.845,3.903,3.954]}},
           "y": {"datum": 96.5, "axis": {"orient": "left", "title": null, "labels": false, "domain": false, "tickSize": 2, "values": [5,10,15,25,30,35,45,50,55,65,70,75,85,90,95]}},
           "text": {"field": "note"}}}
      ]
    },
    {
      "width": 154, "height": 33,
      "view": {"stroke": null},
      "data": {"values": [{"caption": "GFP-CCND3 expression", "logo": "CSH", "logo_sub": "PERSPECTIVES"}]},
      "layer": [
        {"mark": {"type": "rule", "color": "#555555", "strokeWidth": 1.2},
         "encoding": {"x": {"datum": 0.818, "scale": {"domain": [0, 1]}, "axis": null}, "x2": {"datum": 3.883}, "y": {"datum": 0.15, "scale": {"domain": [0, 1]}, "axis": null}}},
        {"mark": {"type": "point", "shape": "triangle-right", "filled": true, "color": "#333333", "size": 60, "opacity": 1},
         "encoding": {"x": {"datum": 3.909}, "y": {"datum": 0.15}}},
        {"mark": {"type": "text", "align": "right", "baseline": "middle", "dx": -7, "fontSize": 13, "color": "#222222"},
         "encoding": {"x": {"datum": 0.818}, "y": {"datum": 0.22}, "text": {"field": "caption"}}},
        {"mark": {"type": "rect", "fill": "white", "stroke": "#999999", "strokeWidth": 1},
         "encoding": {"x": {"datum": 4.052}, "x2": {"datum": 4.351}, "y": {"datum": 0.03}, "y2": {"datum": 1.515}}},
        {"mark": {"type": "point", "shape": "circle", "filled": false, "stroke": "#333333", "strokeWidth": 2, "strokeDash": [2, 1.5], "size": 1000, "opacity": 1},
         "encoding": {"x": {"datum": 4.201}, "y": {"datum": 0.788}}},
        {"mark": {"type": "text", "align": "center", "baseline": "middle", "fontSize": 12, "color": "#222222"},
         "encoding": {"x": {"datum": 4.201}, "y": {"datum": 0.94}, "text": {"field": "logo"}}},
        {"mark": {"type": "text", "align": "center", "baseline": "middle", "fontSize": 5, "font": "Liberation Serif", "fontWeight": "bold", "color": "#9b1b30"},
         "encoding": {"x": {"datum": 4.201}, "y": {"datum": 0.64}, "text": {"field": "logo_sub"}}}
      ]
    }
  ]
}
